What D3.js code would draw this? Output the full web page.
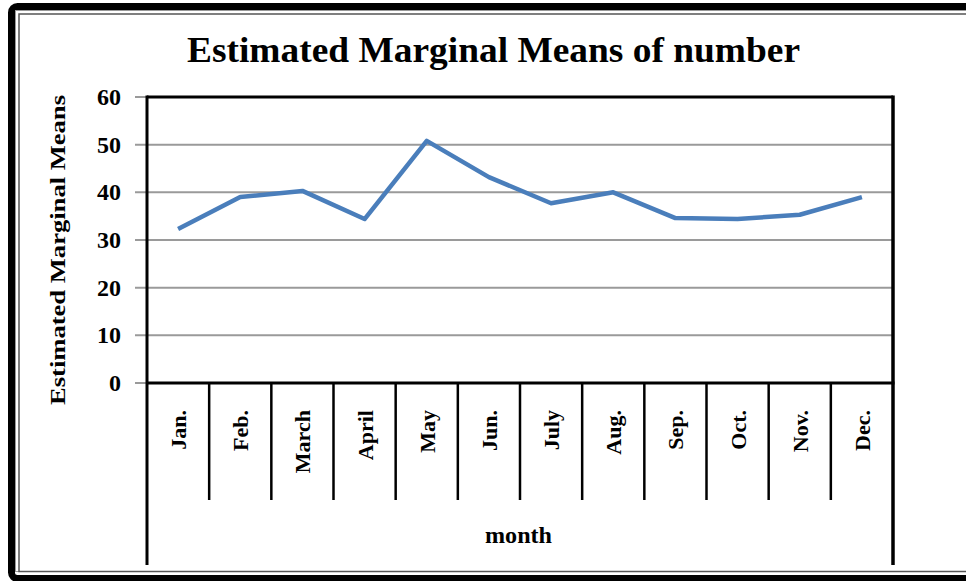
<!DOCTYPE html>
<html>
<head>
<meta charset="utf-8">
<script src="https://cdn.jsdelivr.net/npm/d3@7"></script>
<style>
  html, body { margin: 0; padding: 0; background: #fff; }
  svg { display: block; }
  text { font-family: "Liberation Serif", "Times New Roman", serif; font-weight: bold; fill: #000; }
</style>
</head>
<body>
<svg id="chart" width="966" height="581"></svg>
<script>
const months = ["Jan.", "Feb.", "March", "April", "May", "Jun.", "July", "Aug.", "Sep.", "Oct.", "Nov.", "Dec."];
const means = [32.3, 39.0, 40.3, 34.4, 50.8, 43.2, 37.7, 40.0, 34.6, 34.4, 35.3, 39.0];
const yTicks = [0, 10, 20, 30, 40, 50, 60];
const titleText = "Estimated Marginal Means of number";
const yTitle = "Estimated Marginal Means";
const xTitle = "month";

(function () {
const svg = d3.select("#chart");
const pL = 147, pR = 893, pT = 97, pB = 383;

// outer frame
svg.append("rect").attr("x", 11.5).attr("y", 6.5).attr("width", 970).attr("height", 572)
  .attr("rx", 6).attr("fill", "none").attr("stroke", "#000").attr("stroke-width", 7);
svg.append("rect").attr("x", 15.5).attr("y", 10.5).attr("width", 970).attr("height", 561)
  .attr("fill", "none").attr("stroke", "#999").attr("stroke-width", 1);
svg.append("rect").attr("x", 19).attr("y", 14).attr("width", 970).attr("height", 557.5)
  .attr("fill", "none").attr("stroke", "#555").attr("stroke-width", 1.5);

const x = d3.scaleBand().domain(months).range([pL, pR]).padding(0);
const y = d3.scaleLinear().domain([0, 60]).range([pB, pT]);

// gridlines + ticks
svg.append("g").selectAll("line").data(yTicks).join("line")
  .attr("x1", 135).attr("x2", d => (d === 0 || d === 60) ? pL : pR)
  .attr("y1", d => y(d)).attr("y2", d => y(d))
  .attr("stroke", "#9a9a9a").attr("stroke-width", 2);

// y tick labels
svg.append("g").selectAll("text").data(yTicks).join("text")
  .attr("x", 121).attr("y", d => y(d) + 8)
  .attr("text-anchor", "end").attr("font-size", 24)
  .text(d => d);

// plot frame lines
svg.append("line").attr("x1", pL).attr("x2", pR).attr("y1", pT).attr("y2", pT)
  .attr("stroke", "#000").attr("stroke-width", 3);
svg.append("line").attr("x1", pL).attr("x2", pR + 1.5).attr("y1", pB).attr("y2", pB)
  .attr("stroke", "#000").attr("stroke-width", 3);
svg.append("line").attr("x1", pL).attr("x2", pL).attr("y1", pT - 1.5).attr("y2", 565)
  .attr("stroke", "#000").attr("stroke-width", 3);
svg.append("line").attr("x1", pR).attr("x2", pR).attr("y1", pT - 1.5).attr("y2", 565)
  .attr("stroke", "#000").attr("stroke-width", 3.5);

// category dividers
svg.append("g").selectAll("line").data(months.slice(1)).join("line")
  .attr("x1", d => x(d)).attr("x2", d => x(d))
  .attr("y1", pB).attr("y2", 500)
  .attr("stroke", "#000").attr("stroke-width", 2.5);

// x labels
svg.append("g").selectAll("text").data(months).join("text")
  .attr("transform", d => `translate(${x(d) + x.bandwidth() / 2 + 8},410) rotate(-90)`)
  .attr("text-anchor", "end").attr("font-size", 22)
  .text(d => d);

// line
const line = d3.line()
  .x((d, i) => x(months[i]) + x.bandwidth() / 2)
  .y(d => y(d));
svg.append("path").datum(means).attr("d", line)
  .attr("fill", "none").attr("stroke", "#4a7ebb").attr("stroke-width", 4.5)
  .attr("stroke-linejoin", "round");

// titles
svg.append("text").attr("x", 493.5).attr("y", 62).attr("text-anchor", "middle")
  .attr("font-size", 36).attr("textLength", 613).attr("lengthAdjust", "spacingAndGlyphs")
  .text(titleText);
svg.append("text").attr("transform", "translate(65,250) rotate(-90)")
  .attr("text-anchor", "middle").attr("font-size", 22)
  .attr("textLength", 310).attr("lengthAdjust", "spacingAndGlyphs")
  .text(yTitle);
svg.append("text").attr("x", 518.5).attr("y", 543).attr("text-anchor", "middle")
  .attr("font-size", 23).attr("textLength", 67).attr("lengthAdjust", "spacingAndGlyphs")
  .text(xTitle);
})();
</script>
</body>
</html>
